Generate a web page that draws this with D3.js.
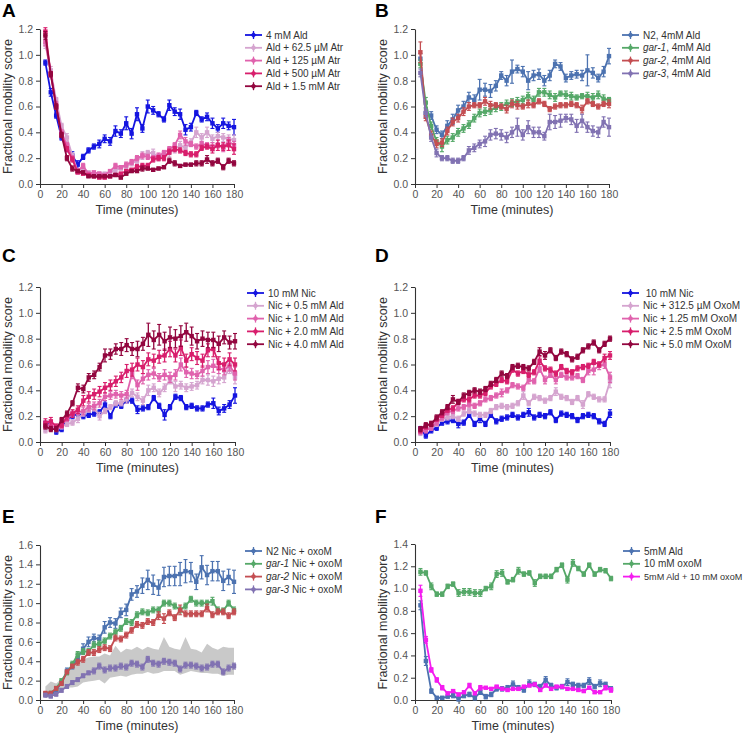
<!DOCTYPE html>
<html><head><meta charset="utf-8">
<script src="https://cdn.jsdelivr.net/npm/d3@7"></script>
<style>body{margin:0;background:#fff}svg{display:block;font-family:"Liberation Sans",Arial,sans-serif}</style>
</head><body><svg id="c" width="749" height="735"></svg>
<script>
const times = [5,10,15,20,25,30,35,40,45,50,55,60,65,70,75,80,85,90,95,100,105,110,115,120,125,130,135,140,145,150,155,160,165,170,175,180];
const xTicks = [0,20,40,60,80,100,120,140,160,180];

// Panel A
const aAld = [0.94,0.71,0.53,0.36,0.27,0.22,0.15,0.21,0.26,0.29,0.31,0.35,0.33,0.41,0.39,0.47,0.39,0.54,0.43,0.60,0.57,0.54,0.50,0.61,0.56,0.54,0.42,0.44,0.55,0.50,0.52,0.47,0.43,0.47,0.45,0.44];
const aAldErr = [0.02,0.03,0.02,0.02,0.02,0.03,0.03,0.02,0.02,0.02,0.03,0.03,0.03,0.04,0.03,0.05,0.04,0.05,0.03,0.05,0.03,0.02,0.02,0.04,0.03,0.04,0.04,0.03,0.02,0.02,0.03,0.04,0.03,0.04,0.03,0.06];
const aAtr62 = [1.08,0.88,0.65,0.45,0.36,0.22,0.10,0.12,0.09,0.07,0.08,0.08,0.09,0.11,0.12,0.14,0.16,0.18,0.22,0.24,0.24,0.20,0.23,0.24,0.27,0.30,0.28,0.32,0.40,0.36,0.40,0.35,0.37,0.36,0.35,0.34];
const aAtr62Err = [0.03,0.03,0.02,0.02,0.03,0.02,0.02,0.02,0.01,0.01,0.01,0.01,0.01,0.02,0.01,0.02,0.02,0.02,0.03,0.02,0.03,0.02,0.02,0.03,0.03,0.03,0.03,0.03,0.04,0.03,0.04,0.03,0.03,0.03,0.03,0.04];
const aAtr125 = [1.10,0.85,0.62,0.40,0.30,0.20,0.10,0.14,0.08,0.09,0.08,0.07,0.10,0.14,0.13,0.15,0.17,0.20,0.22,0.21,0.20,0.22,0.24,0.27,0.30,0.38,0.33,0.31,0.29,0.31,0.30,0.29,0.30,0.28,0.33,0.30];
const aAtr125Err = [0.03,0.02,0.02,0.02,0.02,0.02,0.02,0.02,0.01,0.01,0.01,0.01,0.01,0.02,0.01,0.02,0.02,0.02,0.02,0.02,0.02,0.02,0.02,0.02,0.02,0.03,0.03,0.02,0.02,0.02,0.02,0.03,0.02,0.03,0.03,0.03];
const aAtr500 = [1.18,0.85,0.60,0.38,0.27,0.19,0.09,0.08,0.07,0.06,0.05,0.05,0.06,0.07,0.08,0.10,0.11,0.13,0.14,0.14,0.19,0.20,0.20,0.25,0.27,0.26,0.24,0.23,0.23,0.28,0.29,0.27,0.30,0.29,0.30,0.27];
const aAtr500Err = [0.03,0.02,0.02,0.02,0.02,0.02,0.01,0.01,0.01,0.01,0.01,0.01,0.01,0.01,0.01,0.01,0.01,0.02,0.02,0.02,0.02,0.02,0.02,0.02,0.02,0.02,0.02,0.02,0.02,0.02,0.02,0.03,0.04,0.03,0.04,0.04];
const aAtr1500 = [1.15,0.85,0.60,0.38,0.20,0.12,0.10,0.09,0.06,0.06,0.06,0.06,0.06,0.07,0.05,0.08,0.10,0.10,0.12,0.12,0.11,0.12,0.13,0.18,0.16,0.14,0.15,0.15,0.16,0.16,0.19,0.16,0.18,0.13,0.18,0.16];
const aAtr1500Err = [0.03,0.02,0.02,0.02,0.02,0.02,0.01,0.01,0.01,0.01,0.01,0.01,0.01,0.01,0.01,0.01,0.01,0.01,0.02,0.01,0.01,0.01,0.01,0.02,0.02,0.01,0.01,0.01,0.02,0.02,0.03,0.02,0.02,0.02,0.02,0.02];

// Panel B
const bN2 = [0.97,0.55,0.53,0.42,0.38,0.45,0.50,0.57,0.60,0.67,0.65,0.73,0.73,0.72,0.76,0.84,0.80,0.87,0.89,0.87,0.80,0.84,0.85,0.80,0.84,0.93,0.91,0.82,0.84,0.85,0.84,0.88,0.86,0.82,0.87,0.99];
const bN2Err = [0.04,0.04,0.03,0.03,0.03,0.04,0.04,0.04,0.04,0.04,0.04,0.08,0.05,0.05,0.04,0.03,0.04,0.09,0.03,0.04,0.07,0.04,0.04,0.04,0.04,0.03,0.03,0.03,0.03,0.03,0.04,0.12,0.04,0.03,0.04,0.06];
const bGar1 = [0.93,0.63,0.45,0.33,0.29,0.34,0.36,0.40,0.43,0.46,0.51,0.55,0.56,0.57,0.59,0.60,0.62,0.63,0.64,0.65,0.68,0.65,0.71,0.71,0.69,0.67,0.70,0.69,0.68,0.67,0.68,0.68,0.67,0.69,0.66,0.65];
const bGar1Err = [0.03,0.04,0.03,0.03,0.04,0.03,0.03,0.03,0.03,0.03,0.03,0.03,0.03,0.03,0.03,0.03,0.03,0.03,0.03,0.03,0.03,0.03,0.03,0.03,0.03,0.03,0.02,0.03,0.03,0.02,0.02,0.03,0.03,0.03,0.03,0.02];
const bGar2 = [1.02,0.52,0.38,0.31,0.32,0.41,0.48,0.51,0.56,0.60,0.61,0.61,0.64,0.61,0.61,0.60,0.58,0.62,0.61,0.60,0.62,0.61,0.64,0.62,0.58,0.60,0.61,0.61,0.62,0.61,0.58,0.64,0.62,0.60,0.62,0.62];
const bGar2Err = [0.08,0.03,0.03,0.03,0.03,0.03,0.03,0.03,0.03,0.03,0.02,0.02,0.03,0.03,0.02,0.02,0.03,0.03,0.03,0.02,0.03,0.02,0.02,0.02,0.02,0.02,0.02,0.02,0.02,0.02,0.03,0.02,0.02,0.02,0.02,0.03];
const bGar3 = [0.86,0.55,0.36,0.24,0.20,0.20,0.18,0.18,0.20,0.26,0.28,0.31,0.33,0.38,0.39,0.38,0.36,0.40,0.44,0.38,0.44,0.40,0.40,0.37,0.48,0.48,0.49,0.51,0.50,0.45,0.49,0.44,0.41,0.40,0.48,0.44];
const bGar3Err = [0.03,0.03,0.03,0.03,0.02,0.02,0.02,0.02,0.02,0.03,0.03,0.03,0.04,0.04,0.04,0.04,0.04,0.04,0.07,0.04,0.05,0.04,0.04,0.03,0.06,0.05,0.05,0.03,0.04,0.05,0.05,0.04,0.04,0.04,0.04,0.07];

// Panel C
const cNic = [0.14,0.14,0.08,0.10,0.18,0.20,0.22,0.20,0.21,0.22,0.23,0.29,0.20,0.29,0.28,0.32,0.32,0.25,0.26,0.27,0.34,0.28,0.21,0.27,0.35,0.34,0.27,0.28,0.26,0.26,0.29,0.30,0.24,0.26,0.29,0.36];
const cNicErr = [0.02,0.02,0.02,0.02,0.02,0.02,0.02,0.02,0.02,0.02,0.02,0.03,0.02,0.02,0.02,0.02,0.02,0.03,0.02,0.02,0.02,0.02,0.04,0.02,0.02,0.02,0.02,0.02,0.02,0.02,0.02,0.04,0.03,0.03,0.03,0.06];
const cAld05 = [0.09,0.12,0.10,0.12,0.14,0.15,0.18,0.22,0.25,0.26,0.20,0.24,0.27,0.30,0.30,0.33,0.38,0.35,0.32,0.40,0.42,0.38,0.42,0.48,0.43,0.44,0.42,0.43,0.44,0.48,0.48,0.47,0.49,0.50,0.57,0.50];
const cAld05Err = [0.02,0.02,0.02,0.02,0.02,0.02,0.03,0.02,0.02,0.02,0.03,0.02,0.02,0.02,0.02,0.03,0.03,0.03,0.03,0.04,0.03,0.03,0.03,0.03,0.04,0.03,0.03,0.03,0.03,0.03,0.04,0.04,0.04,0.04,0.04,0.05];
const cAld10 = [0.13,0.13,0.11,0.13,0.18,0.22,0.23,0.24,0.27,0.28,0.30,0.35,0.36,0.37,0.36,0.37,0.53,0.44,0.49,0.52,0.53,0.50,0.52,0.50,0.52,0.60,0.54,0.53,0.52,0.55,0.58,0.59,0.57,0.56,0.59,0.53];
const cAld10Err = [0.02,0.02,0.02,0.02,0.02,0.02,0.02,0.03,0.03,0.03,0.03,0.03,0.03,0.03,0.03,0.03,0.04,0.04,0.04,0.04,0.04,0.03,0.04,0.04,0.04,0.05,0.04,0.04,0.03,0.04,0.05,0.05,0.04,0.04,0.04,0.05];
const cAld20 = [0.15,0.16,0.12,0.13,0.20,0.22,0.25,0.32,0.35,0.37,0.39,0.42,0.44,0.47,0.50,0.55,0.56,0.60,0.58,0.64,0.63,0.66,0.67,0.72,0.67,0.73,0.63,0.68,0.65,0.63,0.71,0.72,0.61,0.60,0.64,0.60];
const cAld20Err = [0.03,0.03,0.02,0.02,0.03,0.03,0.03,0.04,0.04,0.04,0.04,0.04,0.04,0.04,0.04,0.05,0.05,0.05,0.05,0.05,0.05,0.05,0.05,0.06,0.05,0.06,0.05,0.05,0.05,0.05,0.05,0.06,0.05,0.05,0.05,0.05];
const cAld40 = [0.12,0.10,0.10,0.17,0.22,0.30,0.42,0.41,0.50,0.52,0.58,0.67,0.68,0.72,0.72,0.75,0.72,0.72,0.76,0.83,0.79,0.83,0.78,0.81,0.80,0.82,0.85,0.82,0.78,0.80,0.79,0.79,0.76,0.81,0.77,0.78];
const cAld40Err = [0.02,0.02,0.02,0.02,0.02,0.02,0.03,0.03,0.03,0.03,0.03,0.05,0.04,0.04,0.05,0.05,0.05,0.06,0.05,0.09,0.07,0.08,0.07,0.08,0.07,0.08,0.07,0.07,0.06,0.06,0.06,0.06,0.06,0.05,0.05,0.06];

// Panel D
const dNic = [0.10,0.05,0.09,0.11,0.15,0.16,0.17,0.14,0.15,0.21,0.14,0.18,0.14,0.21,0.16,0.18,0.19,0.21,0.19,0.21,0.23,0.19,0.21,0.20,0.23,0.17,0.22,0.21,0.20,0.17,0.20,0.21,0.20,0.16,0.14,0.22];
const dNicErr = [0.02,0.02,0.02,0.02,0.02,0.02,0.02,0.03,0.02,0.02,0.02,0.03,0.02,0.02,0.02,0.02,0.02,0.02,0.02,0.02,0.03,0.02,0.02,0.02,0.02,0.02,0.02,0.02,0.02,0.02,0.02,0.02,0.02,0.02,0.02,0.03];
const dOxo312 = [0.07,0.10,0.12,0.14,0.18,0.19,0.20,0.18,0.22,0.24,0.22,0.21,0.21,0.24,0.27,0.28,0.27,0.28,0.30,0.36,0.30,0.35,0.34,0.32,0.34,0.39,0.35,0.34,0.31,0.34,0.29,0.37,0.35,0.33,0.33,0.47];
const dOxo312Err = [0.02,0.02,0.02,0.02,0.02,0.02,0.02,0.02,0.02,0.02,0.02,0.02,0.02,0.02,0.02,0.02,0.02,0.02,0.02,0.03,0.02,0.02,0.02,0.02,0.02,0.03,0.02,0.02,0.02,0.02,0.03,0.02,0.02,0.02,0.02,0.05];
const dOxo125 = [0.08,0.09,0.11,0.15,0.19,0.23,0.24,0.26,0.27,0.29,0.28,0.30,0.33,0.34,0.36,0.38,0.40,0.44,0.43,0.42,0.48,0.47,0.57,0.48,0.52,0.48,0.52,0.50,0.50,0.51,0.48,0.55,0.56,0.59,0.60,0.50];
const dOxo125Err = [0.02,0.02,0.02,0.02,0.02,0.02,0.02,0.02,0.02,0.02,0.02,0.02,0.02,0.02,0.02,0.03,0.02,0.02,0.02,0.02,0.03,0.02,0.03,0.03,0.02,0.03,0.02,0.02,0.02,0.02,0.02,0.03,0.04,0.03,0.03,0.04];
const dOxo25 = [0.09,0.12,0.14,0.18,0.21,0.25,0.26,0.31,0.33,0.33,0.36,0.36,0.38,0.43,0.45,0.48,0.47,0.56,0.53,0.55,0.52,0.54,0.63,0.57,0.56,0.53,0.58,0.55,0.54,0.57,0.58,0.59,0.62,0.60,0.65,0.67];
const dOxo25Err = [0.02,0.02,0.02,0.02,0.02,0.02,0.02,0.02,0.02,0.02,0.02,0.02,0.02,0.02,0.02,0.02,0.02,0.02,0.02,0.02,0.02,0.02,0.03,0.02,0.02,0.02,0.02,0.02,0.02,0.02,0.02,0.02,0.02,0.02,0.03,0.03];
const dOxo50 = [0.10,0.13,0.14,0.19,0.23,0.27,0.33,0.31,0.36,0.38,0.40,0.39,0.41,0.45,0.48,0.53,0.51,0.58,0.59,0.58,0.57,0.62,0.70,0.67,0.71,0.65,0.70,0.68,0.64,0.66,0.71,0.74,0.77,0.71,0.76,0.80];
const dOxo50Err = [0.02,0.02,0.02,0.02,0.02,0.02,0.03,0.02,0.02,0.02,0.02,0.02,0.02,0.02,0.02,0.02,0.02,0.02,0.02,0.02,0.02,0.02,0.03,0.03,0.02,0.02,0.02,0.02,0.02,0.02,0.02,0.02,0.02,0.02,0.02,0.02];

// Panel E
const eN2 = [0.06,0.05,0.10,0.18,0.30,0.35,0.43,0.53,0.60,0.64,0.63,0.75,0.80,0.79,0.90,0.93,1.09,1.12,1.18,1.24,1.19,1.16,1.27,1.28,1.28,1.30,1.33,1.32,1.22,1.37,1.29,1.33,1.33,1.23,1.27,1.22];
const eN2Err = [0.02,0.02,0.02,0.02,0.03,0.03,0.04,0.05,0.05,0.04,0.04,0.06,0.05,0.05,0.05,0.06,0.06,0.06,0.08,0.10,0.10,0.08,0.10,0.10,0.10,0.12,0.12,0.10,0.08,0.12,0.10,0.10,0.10,0.10,0.08,0.12];
const eGar1 = [0.06,0.07,0.12,0.20,0.28,0.37,0.47,0.50,0.50,0.57,0.58,0.61,0.66,0.70,0.74,0.81,0.80,0.88,0.91,0.90,0.93,0.93,1.00,1.00,0.97,0.93,0.97,1.04,1.00,1.00,1.00,1.02,0.93,0.92,1.00,0.93];
const eGar1Err = [0.02,0.02,0.02,0.02,0.02,0.03,0.03,0.03,0.03,0.03,0.03,0.03,0.03,0.03,0.03,0.03,0.03,0.03,0.03,0.03,0.03,0.03,0.03,0.03,0.03,0.03,0.03,0.03,0.03,0.03,0.03,0.04,0.03,0.03,0.03,0.03];
const eGar2 = [0.07,0.07,0.12,0.17,0.29,0.35,0.39,0.42,0.49,0.49,0.52,0.54,0.53,0.64,0.63,0.67,0.72,0.78,0.77,0.81,0.80,0.87,0.84,0.90,0.85,0.93,0.89,0.89,0.89,0.89,0.95,0.88,0.91,0.91,0.87,0.91];
const eGar2Err = [0.02,0.02,0.02,0.02,0.02,0.02,0.03,0.03,0.03,0.03,0.03,0.03,0.03,0.03,0.03,0.03,0.03,0.03,0.03,0.03,0.03,0.04,0.05,0.03,0.03,0.05,0.03,0.03,0.03,0.03,0.04,0.03,0.03,0.03,0.03,0.03];
const eGar3 = [0.05,0.04,0.06,0.10,0.14,0.18,0.21,0.25,0.28,0.30,0.35,0.31,0.33,0.33,0.35,0.34,0.38,0.37,0.34,0.42,0.38,0.37,0.40,0.39,0.38,0.32,0.36,0.36,0.35,0.33,0.34,0.37,0.37,0.29,0.33,0.35];
const eGar3Err = [0.02,0.02,0.02,0.02,0.02,0.02,0.02,0.02,0.02,0.03,0.03,0.03,0.03,0.03,0.03,0.03,0.03,0.03,0.03,0.03,0.03,0.03,0.03,0.03,0.03,0.03,0.03,0.03,0.03,0.03,0.03,0.03,0.03,0.03,0.03,0.03];
const eBandUpper = [0.14,0.19,0.17,0.22,0.30,0.35,0.40,0.42,0.44,0.45,0.45,0.48,0.46,0.56,0.49,0.53,0.52,0.55,0.52,0.55,0.53,0.52,0.65,0.55,0.53,0.52,0.65,0.53,0.52,0.49,0.58,0.54,0.52,0.55,0.54,0.54];
const eBandLower = [0.02,0.04,0.06,0.10,0.13,0.13,0.14,0.18,0.19,0.20,0.21,0.17,0.23,0.24,0.25,0.24,0.26,0.27,0.27,0.29,0.27,0.28,0.30,0.30,0.30,0.26,0.28,0.30,0.29,0.28,0.28,0.27,0.27,0.25,0.26,0.26];

// Panel F
const fAld = [0.85,0.35,0.08,0.02,0.02,0.03,0.04,0.01,0.04,0.05,0.02,0.07,0.03,0.05,0.10,0.10,0.11,0.14,0.11,0.09,0.15,0.14,0.12,0.18,0.13,0.11,0.12,0.16,0.14,0.13,0.13,0.17,0.12,0.15,0.14,0.10];
const fAldErr = [0.04,0.04,0.02,0.01,0.01,0.01,0.02,0.02,0.02,0.02,0.02,0.02,0.02,0.02,0.02,0.02,0.02,0.03,0.02,0.02,0.03,0.02,0.02,0.03,0.02,0.02,0.02,0.03,0.02,0.02,0.02,0.03,0.02,0.03,0.02,0.02];
const fOxo = [1.15,1.14,1.02,0.95,0.95,1.02,1.04,0.96,0.97,0.97,0.96,0.96,1.00,1.02,1.13,1.14,1.06,1.08,1.16,1.13,1.14,1.05,1.11,1.11,1.11,1.17,1.21,1.08,1.23,1.18,1.13,1.21,1.13,1.17,1.16,1.09];
const fOxoErr = [0.03,0.02,0.03,0.02,0.02,0.02,0.02,0.03,0.03,0.03,0.03,0.03,0.02,0.03,0.03,0.03,0.02,0.02,0.03,0.02,0.02,0.03,0.02,0.02,0.02,0.02,0.02,0.03,0.03,0.02,0.02,0.02,0.02,0.02,0.02,0.02];
const fAldOxo = [0.98,0.54,0.27,0.18,0.11,0.06,0.08,0.05,0.07,0.13,0.06,0.11,0.11,0.10,0.12,0.10,0.09,0.10,0.10,0.12,0.13,0.14,0.09,0.13,0.10,0.12,0.12,0.10,0.10,0.09,0.08,0.11,0.07,0.07,0.11,0.09];
const fAldOxoErr = [0.05,0.03,0.02,0.02,0.02,0.01,0.01,0.01,0.01,0.02,0.01,0.02,0.01,0.01,0.01,0.01,0.01,0.01,0.01,0.01,0.01,0.01,0.01,0.01,0.01,0.01,0.01,0.01,0.01,0.01,0.01,0.01,0.01,0.01,0.02,0.02];

const yTicks12 = [0.0,0.2,0.4,0.6,0.8,1.0,1.2];
const yTicks16 = [0.0,0.2,0.4,0.6,0.8,1.0,1.2,1.4,1.6];
const yTicks14 = [0.0,0.2,0.4,0.6,0.8,1.0,1.2,1.4];

const PuRd = ["#d5a4cf","#e062ad","#d81e6c","#93063f"];
const deep = ["#4c72b0","#55a868","#c44e52","#8172b2"];
const blueA = "#1414e0";

const panels = [
 {letter:"A", lx:2, ly:17, x0:40, x1:234, y0:184, y1:29, yMax:1.2, yTicks:yTicks12, legX:245, legY:35,
  series:[
   {pre:"",name:"4 mM Ald",color:blueA,v:aAld,e:aAldErr},
   {pre:"",name:"Ald + 62.5 \u00b5M Atr",color:PuRd[0],v:aAtr62,e:aAtr62Err},
   {pre:"",name:"Ald + 125 \u00b5M Atr",color:PuRd[1],v:aAtr125,e:aAtr125Err},
   {pre:"",name:"Ald + 500 \u00b5M Atr",color:PuRd[2],v:aAtr500,e:aAtr500Err},
   {pre:"",name:"Ald + 1.5 mM Atr",color:PuRd[3],v:aAtr1500,e:aAtr1500Err}]},
 {letter:"B", lx:375, ly:17, x0:415, x1:609, y0:184, y1:29, yMax:1.2, yTicks:yTicks12, legX:622, legY:35,
  series:[
   {pre:"",name:"N2, 4mM Ald",color:deep[0],v:bN2,e:bN2Err},
   {pre:"gar-1",name:", 4mM Ald",color:deep[1],v:bGar1,e:bGar1Err},
   {pre:"gar-2",name:", 4mM Ald",color:deep[2],v:bGar2,e:bGar2Err},
   {pre:"gar-3",name:", 4mM Ald",color:deep[3],v:bGar3,e:bGar3Err}]},
 {letter:"C", lx:2, ly:262, x0:40, x1:235, y0:442, y1:287, yMax:1.2, yTicks:yTicks12, legX:247, legY:293,
  series:[
   {pre:"",name:"10 mM Nic",color:blueA,v:cNic,e:cNicErr},
   {pre:"",name:"Nic + 0.5 mM Ald",color:PuRd[0],v:cAld05,e:cAld05Err},
   {pre:"",name:"Nic + 1.0 mM Ald",color:PuRd[1],v:cAld10,e:cAld10Err},
   {pre:"",name:"Nic + 2.0 mM Ald",color:PuRd[2],v:cAld20,e:cAld20Err},
   {pre:"",name:"Nic + 4.0 mM Ald",color:PuRd[3],v:cAld40,e:cAld40Err}]},
 {letter:"D", lx:375, ly:262, x0:415, x1:610, y0:442, y1:287, yMax:1.2, yTicks:yTicks12, legX:622, legY:293,
  series:[
   {pre:"",name:" 10 mM Nic",color:blueA,v:dNic,e:dNicErr},
   {pre:"",name:"Nic + 312.5 \u00b5M OxoM",color:PuRd[0],v:dOxo312,e:dOxo312Err},
   {pre:"",name:"Nic + 1.25 mM OxoM",color:PuRd[1],v:dOxo125,e:dOxo125Err},
   {pre:"",name:"Nic + 2.5 mM OxoM",color:PuRd[2],v:dOxo25,e:dOxo25Err},
   {pre:"",name:"Nic + 5.0 mM OxoM",color:PuRd[3],v:dOxo50,e:dOxo50Err}]},
 {letter:"E", lx:2, ly:523, x0:40, x1:234, y0:700, y1:545, yMax:1.6, yTicks:yTicks16, legX:245, legY:551,
  band:{upper:eBandUpper, lower:eBandLower},
  series:[
   {pre:"",name:"N2 Nic + oxoM",color:deep[0],v:eN2,e:eN2Err},
   {pre:"gar-1",name:" Nic + oxoM",color:deep[1],v:eGar1,e:eGar1Err},
   {pre:"gar-2",name:" Nic + oxoM",color:deep[2],v:eGar2,e:eGar2Err},
   {pre:"gar-3",name:" Nic + oxoM",color:deep[3],v:eGar3,e:eGar3Err}]},
 {letter:"F", lx:375, ly:523, x0:415, x1:611, y0:700, y1:544, yMax:1.4, yTicks:yTicks14, legX:623, legY:551,
  series:[
   {pre:"",name:"5mM Ald",color:deep[0],v:fAld,e:fAldErr},
   {pre:"",name:"10 mM oxoM",color:deep[1],v:fOxo,e:fOxoErr},
   {pre:"",name:"5mM Ald + 10 mM oxoM",color:"#f41cf0",v:fAldOxo,e:fAldOxoErr}]}
];

const svg = d3.select("#c");

panels.forEach(p => {
  const g = svg.append("g");
  const x = d3.scaleLinear().domain([0,180]).range([p.x0,p.x1]);
  const y = d3.scaleLinear().domain([0,p.yMax]).range([p.y0,p.y1]);

  g.append("text").attr("x",p.lx).attr("y",p.ly).attr("font-size",19).attr("font-weight","bold")
    .attr("fill","#000").text(p.letter);

  const ax = g.append("g").attr("transform",`translate(0,${p.y0})`)
    .call(d3.axisBottom(x).tickValues(xTicks).tickSize(4).tickSizeOuter(0).tickPadding(3));
  const ay = g.append("g").attr("transform",`translate(${p.x0},0)`)
    .call(d3.axisLeft(y).tickValues(p.yTicks).tickFormat(d3.format(".1f")).tickSize(4).tickSizeOuter(0).tickPadding(3));
  [ax,ay].forEach(a=>{
    a.select(".domain").attr("stroke","#333").attr("stroke-width",1.1);
    a.selectAll(".tick line").attr("stroke","#333");
    a.selectAll(".tick text").attr("fill","#555").attr("font-size",10.5).attr("font-family","Liberation Sans, Arial, sans-serif");
  });

  g.append("text").attr("x",(p.x0+p.x1)/2).attr("y",p.y0+30).attr("text-anchor","middle")
    .attr("font-size",12.5).attr("fill","#333").text("Time (minutes)");
  g.append("text").attr("transform",`translate(${p.x0-28},${(p.y0+p.y1)/2}) rotate(-90)`)
    .attr("text-anchor","middle").attr("font-size",12.5).attr("fill","#333").text("Fractional mobility score");

  if (p.band) {
    const area = d3.area().x((d,i)=>x(times[i])).y0((d,i)=>y(p.band.lower[i])).y1((d,i)=>y(p.band.upper[i]));
    g.append("path").datum(p.band.upper).attr("d",area).attr("fill","#c9c9c9");
  }

  const line = d3.line().x((d,i)=>x(times[i])).y(d=>y(d));
  p.series.forEach(s => {
    const sg = g.append("g");
    sg.append("path").datum(s.v).attr("d",line).attr("fill","none").attr("stroke",s.color).attr("stroke-width",1.8);
    s.v.forEach((v,i)=>{
      const cx = x(times[i]), yt = y(v + s.e[i]), yb = y(v - s.e[i]);
      sg.append("line").attr("x1",cx).attr("x2",cx).attr("y1",yt).attr("y2",yb).attr("stroke",s.color).attr("stroke-width",1.3);
      sg.append("line").attr("x1",cx-2).attr("x2",cx+2).attr("y1",yt).attr("y2",yt).attr("stroke",s.color).attr("stroke-width",1.1);
      sg.append("line").attr("x1",cx-2).attr("x2",cx+2).attr("y1",yb).attr("y2",yb).attr("stroke",s.color).attr("stroke-width",1.1);
      sg.append("rect").attr("x",cx-2.2).attr("y",y(v)-2.2).attr("width",4.4).attr("height",4.4).attr("fill",s.color);
    });
  });

  p.series.forEach((s,i)=>{
    const ly = p.legY + i*12.8;
    const lg = g.append("g");
    lg.append("line").attr("x1",p.legX).attr("x2",p.legX+17).attr("y1",ly).attr("y2",ly).attr("stroke",s.color).attr("stroke-width",1.8);
    const mx = p.legX+8.5;
    lg.append("line").attr("x1",mx).attr("x2",mx).attr("y1",ly-4).attr("y2",ly+4).attr("stroke",s.color).attr("stroke-width",1.3);
    lg.append("path").attr("d",`M${mx},${ly-3}L${mx+3},${ly}L${mx},${ly+3}L${mx-3},${ly}Z`).attr("fill",s.color);
    const t = lg.append("text").attr("x",p.legX+21).attr("y",ly+3.6).attr("font-size",10).attr("fill","#333")
      .attr("xml:space","preserve").style("white-space","pre");
    if (s.pre) t.append("tspan").attr("font-style","italic").text(s.pre);
    t.append("tspan").text(s.name);
    const avail = 743 - (p.legX+21);
    const w = t.node().getComputedTextLength();
    if (w > avail) t.attr("font-size", Math.floor(10*avail/w*10)/10);
  });
});
</script></body></html>
